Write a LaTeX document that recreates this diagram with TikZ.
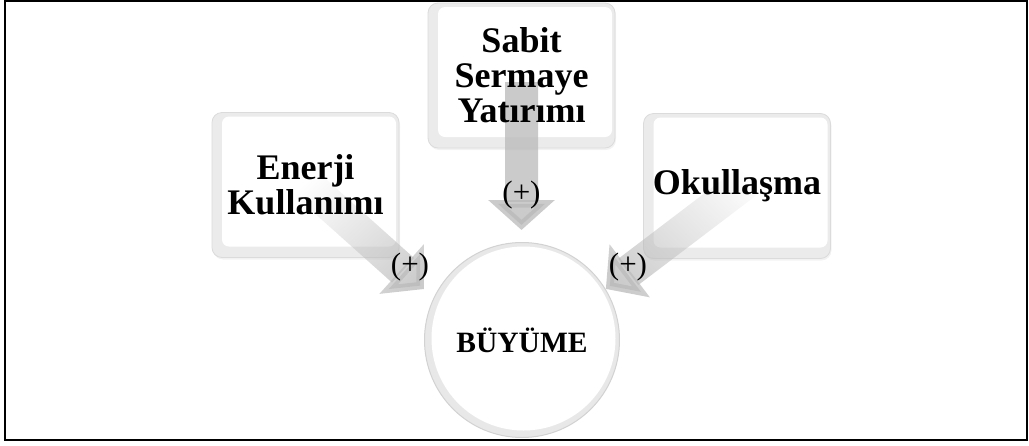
\documentclass[tikz,border=0pt]{standalone}
\usepackage{fontspec}
\setmainfont{Liberation Serif}
\usetikzlibrary{arrows.meta,fadings,shadows}
\begin{document}
\begin{tikzpicture}[x=1pt,y=-1pt,
  box/.style={rounded corners=10pt, minimum width=187pt, minimum height=145pt,
    fill=gray!16, draw=gray!28, line width=0.8pt,
    drop shadow={opacity=0.1, shadow xshift=1pt, shadow yshift=-2pt},
    path picture={\fill[white, rounded corners=7pt]
      ([shift={(10pt,-4pt)}]path picture bounding box.north west) rectangle
      ([shift={(-3pt,11pt)}]path picture bounding box.south east);}},
  boxtext/.style={align=center, font=\fontsize{36}{35}\selectfont\bfseries},
  hub/.style={circle, minimum size=195pt, fill=gray!18, draw=gray!35, line width=1pt,
    font=\fontsize{29.5}{32}\selectfont\bfseries,
    path picture={\fill[white]
      ([shift={(1.5pt,1.5pt)}]path picture bounding box.center) circle (92pt);}},
  flow/.style={line width=33pt, draw=gray!55, opacity=0.75,
    -{Triangle[length=30pt,width=65pt]}},
  plus/.style={font=\fontsize{31}{32}\selectfont, inner sep=0pt}
]
\useasboundingbox (0,0) rectangle (1029,445);
\draw[line width=2pt] (5,1) rectangle (1027,440);

\node[box] (en) at (305.5,185) {};
\node[box] (sa) at (521.5,75.5) {};
\node[box] (ok) at (737,186) {};
\node[hub] (bu) at (522,340) {BÜYÜME};

\coordinate (ens) at (300,178);
\coordinate (ent) at (424,289);
\coordinate (sas) at (521.5,82);
\coordinate (sat) at (521.5,230);
\coordinate (oks) at (760,172);
\coordinate (okt) at (606,289);

\begin{scope}[transparency group, path fading=north]
\draw[flow] (sas) -- (sat);
\end{scope}
\begin{scope}[transparency group]
\draw[flow, path fading=north, fading angle=45] (ens) -- (ent);
\end{scope}
\begin{scope}[transparency group]
\draw[flow, path fading=north, fading angle=-50] (oks) -- (okt);
\end{scope}

\node[boxtext] (ent-t) at (en.center) {Enerji\\Kullanımı};
\node[boxtext] (sat-t) at (sa.center) {Sabit\\Sermaye\\Yatırımı};
\node[boxtext] (okt-t) at (ok.center) {Okullaşma};

\node[plus] (p1) at (410,267) {(+)};
\node[plus] (p2) at (521.5,195) {(+)};
\node[plus] (p3) at (628,267) {(+)};
\end{tikzpicture}
\end{document}
